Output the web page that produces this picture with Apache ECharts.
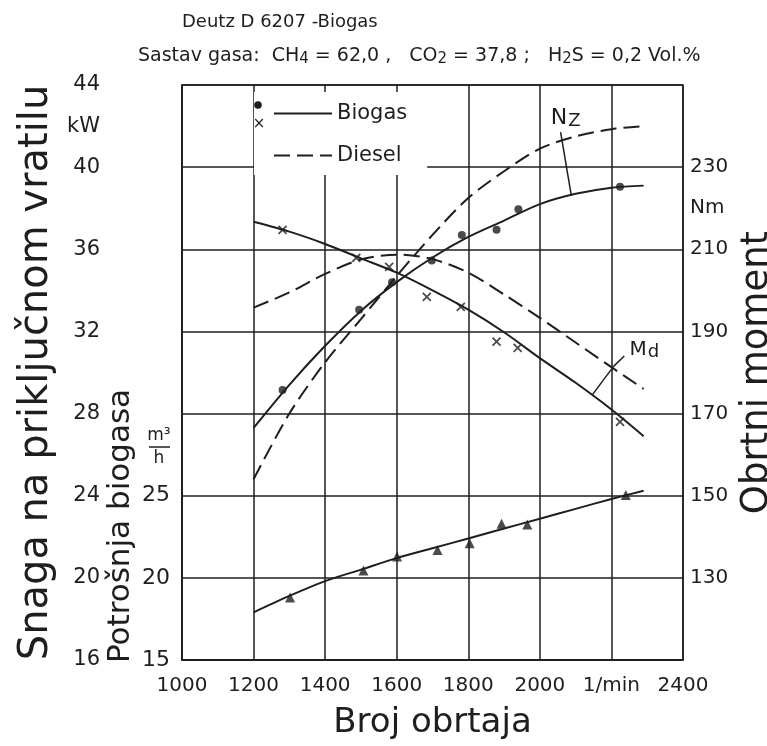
<!DOCTYPE html>
<html>
<head>
<meta charset="utf-8">
<script src="https://cdn.jsdelivr.net/npm/echarts@6/dist/echarts.min.js"></script>
<style>html,body{margin:0;padding:0;background:#fff;}#c{width:767px;height:746px;}</style>
</head>
<body>
<div id="c"></div>
<script>
// ---- data ----
const rpmCurve = [1200, 1300, 1400, 1500, 1600, 1700, 1800, 1900, 2000, 2100, 2200, 2290];
const powerBiogasCurve = [27.3, 29.4, 31.3, 33.0, 34.4, 35.6, 36.6, 37.4, 38.2, 38.7, 39.0, 39.1];
const powerDieselCurve = [24.8, 28.0, 30.5, 32.6, 34.7, 36.7, 38.5, 39.8, 40.9, 41.5, 41.85, 42.0];
const torqueBiogasCurve = [216.7, 214.3, 211.3, 207.8, 204.3, 200.0, 195.3, 189.8, 183.5, 177.5, 171.0, 164.5];
const torqueDieselCurve = [195.8, 199.5, 204.0, 207.5, 208.7, 207.6, 204.3, 199.0, 193.3, 187.3, 181.3, 176.0];
const consumptionCurve = [17.9, 18.9, 19.8, 20.5, 21.2, 21.8, 22.4, 23.0, 23.6, 24.2, 24.8, 25.3];

const powerPointsRpm = [1281, 1495, 1587, 1698, 1782, 1879, 1940, 2224];
const powerPointsKw = [29.15, 33.05, 34.4, 35.45, 36.7, 36.95, 37.95, 39.05];
const torquePointsRpm = [1281, 1487, 1579, 1684, 1779, 1879, 1938, 2224];
const torquePointsNm = [214.7, 207.9, 205.7, 198.4, 196.0, 187.5, 186.0, 168.0];
const consPointsRpm = [1302, 1507, 1601, 1714, 1804, 1893, 1965, 2240];
const consPointsVal = [18.8, 20.45, 21.3, 21.7, 22.1, 23.3, 23.25, 25.05];

const xTicks = [1000, 1200, 1400, 1600, 1800, 2000, 2200, 2400];
const powerTickLabels = [16, 20, 24, 28, 32, 36, 40, 44];
const torqueTickLabels = [130, 150, 170, 190, 210, 230];
const consTickLabels = [15, 20, 25];

// ---- chart ----
const ink = '#1e1e1e';
const FF = 'DejaVu Sans, Noto Sans, sans-serif';
const pair = (xs, ys) => xs.map((x, i) => [x, ys[i]]);

const chart = echarts.init(document.getElementById('c'), null, {renderer: 'canvas'});
chart.setOption({
  animation: false,
  backgroundColor: '#ffffff',
  title: [
    {text: 'Deutz D 6207 -Biogas', left: 177, top: 8,
     textStyle: {fontFamily: FF, fontSize: 18, fontWeight: 'normal', color: ink}},
    {text: '{a|Sastav gasa:  CH}{s|4}{a| = 62,0 ,   CO}{s|2}{a| = 37,8 ;   H}{s|2}{a|S = 0,2 Vol.%}',
     left: 133, top: 40,
     textStyle: {fontFamily: FF, fontSize: 19, fontWeight: 'normal', color: ink,
       rich: {
         a: {fontFamily: FF, fontSize: 19, lineHeight: 22, color: ink, verticalAlign: 'middle'},
         s: {fontFamily: FF, fontSize: 15, lineHeight: 15, color: ink, padding: [11, 0, 0, 0], verticalAlign: 'bottom'}
       }}}
  ],
  legend: {
    data: ['Biogas', 'Diesel'], orient: 'vertical', left: 254, top: 92,
    itemWidth: 58, itemHeight: 14, itemGap: 21, padding: [11, 20, 9, 19],
    backgroundColor: '#ffffff', selectedMode: false,
    itemStyle: {opacity: 0},
    textStyle: {fontFamily: FF, fontSize: 21, color: ink}
  },
  grid: {left: 182, right: 84, top: 85, bottom: 86, show: true, borderColor: ink, borderWidth: 1.5,
         outerBoundsMode: 'none'},
  xAxis: {
    type: 'value', min: 1000, max: 2400, interval: 200,
    name: 'Broj obrtaja', nameLocation: 'middle', nameGap: 46,
    nameTextStyle: {fontFamily: FF, fontSize: 34, color: ink},
    axisLine: {show: true, lineStyle: {color: ink, width: 1.5}},
    axisTick: {show: false},
    axisLabel: {margin: 16, fontFamily: FF, fontSize: 20, color: ink,
      formatter: v => (v === 2200 ? '1/min' : (xTicks.indexOf(v) >= 0 ? String(v) : ''))},
    splitLine: {show: true, lineStyle: {color: ink, width: 1.5}}
  },
  yAxis: [
    { // 0: power
      type: 'value', position: 'left', min: 16, max: 44, interval: 2,
      name: 'Snaga na priključnom vratilu', nameLocation: 'middle', nameRotate: 90, nameGap: 120,
      nameTextStyle: {fontFamily: FF, fontSize: 40, color: ink},
      axisLine: {show: false}, axisTick: {show: false}, splitLine: {show: false},
      axisLabel: {margin: 82, fontFamily: FF, fontSize: 21, color: ink,
        formatter: v => (v === 42 ? 'kW' : (powerTickLabels.indexOf(v) >= 0 ? String(v) : ''))}
    },
    { // 1: torque
      type: 'value', position: 'right', min: 110, max: 250, interval: 10,
      name: 'Obrtni moment', nameLocation: 'middle', nameRotate: 90, nameGap: 44,
      nameTextStyle: {fontFamily: FF, fontSize: 37, color: ink},
      axisLine: {show: false}, axisTick: {show: false}, splitLine: {show: false},
      axisLabel: {margin: 7, fontFamily: FF, fontSize: 20, color: ink,
        formatter: v => (v === 220 ? 'Nm' : (torqueTickLabels.indexOf(v) >= 0 ? String(v) : ''))}
    },
    { // 2: biogas consumption (gridlines)
      type: 'value', position: 'left', min: 15, max: 50, interval: 5,
      axisLine: {show: true, lineStyle: {color: ink, width: 1.5}}, axisTick: {show: false},
      splitLine: {show: true, lineStyle: {color: ink, width: 1.5}},
      axisLabel: {margin: 12, fontFamily: FF, fontSize: 22, color: ink,
        formatter: v => (consTickLabels.indexOf(v) >= 0 ? String(v) : '')}
    }
  ],
  graphic: [
    {type: 'text', z: 100, x: 121, y: 526, rotation: Math.PI / 2,
     style: {text: 'Potrošnja biogasa', fontFamily: FF, fontSize: 31, fill: ink, align: 'center', verticalAlign: 'middle'}},
    {type: 'text', z: 100, x: 159, y: 436,
     style: {text: 'm³', fontFamily: FF, fontSize: 17, fill: ink, align: 'center', verticalAlign: 'middle'}},
    {type: 'line', z: 100, shape: {x1: 149, y1: 447, x2: 170, y2: 447}, style: {stroke: ink, lineWidth: 1.5}},
    {type: 'text', z: 100, x: 159, y: 459,
     style: {text: 'h', fontFamily: FF, fontSize: 17, fill: ink, align: 'center', verticalAlign: 'middle'}},
    {type: 'circle', z: 100, shape: {cx: 258, cy: 105, r: 3.8}, style: {fill: ink}},
    {type: 'text', z: 100, x: 259, y: 124,
     style: {text: '×', fontFamily: FF, fontSize: 15, fill: ink, align: 'center', verticalAlign: 'middle'}}
  ],
  series: [
    {name: 'Biogas', type: 'line', yAxisIndex: 0, smooth: 0.3, symbol: 'none',
     data: pair(rpmCurve, powerBiogasCurve), lineStyle: {color: ink, width: 2, type: 'solid'}, itemStyle: {color: ink},
     markLine: {silent: true, symbol: ['none', 'none'], label: {show: false},
       lineStyle: {color: ink, width: 1.5, type: 'solid'},
       data: [[{coord: [2058, 41.7]}, {coord: [2088, 38.6]}]]}},
    {name: 'Diesel', type: 'line', yAxisIndex: 0, smooth: 0.3, symbol: 'none',
     data: pair(rpmCurve, powerDieselCurve), lineStyle: {color: ink, width: 2, type: [16, 7]}, itemStyle: {color: ink},
     markPoint: {silent: true, symbol: 'circle', symbolSize: 0,
       data: [{coord: [2072, 42.4], label: {show: true, position: 'inside', formatter: '{n|N}{z|Z}',
         rich: {n: {fontFamily: FF, fontSize: 22, lineHeight: 24, color: ink, verticalAlign: 'middle'},
                z: {fontFamily: FF, fontSize: 18, lineHeight: 18, color: ink, padding: [12, 0, 0, 1], verticalAlign: 'bottom'}}}}]}},
    {name: 'Biogas', type: 'line', yAxisIndex: 1, smooth: 0.3, symbol: 'none',
     data: pair(rpmCurve, torqueBiogasCurve), lineStyle: {color: ink, width: 2, type: 'solid'}, itemStyle: {color: ink},
     markLine: {silent: true, symbol: ['none', 'none'], label: {show: false},
       lineStyle: {color: ink, width: 1.5, type: 'solid'},
       data: [[{coord: [2236, 184]}, {coord: [2206, 181.5]}], [{coord: [2206, 181.5]}, {coord: [2146, 174.5]}]]}},
    {name: 'Diesel', type: 'line', yAxisIndex: 1, smooth: 0.3, symbol: 'none',
     data: pair(rpmCurve, torqueDieselCurve), lineStyle: {color: ink, width: 2, type: [16, 7]}, itemStyle: {color: ink},
     markPoint: {silent: true, symbol: 'circle', symbolSize: 0,
       data: [{coord: [2292, 185.5], label: {show: true, position: 'inside', formatter: '{n|M}{z|d}',
         rich: {n: {fontFamily: FF, fontSize: 20, lineHeight: 22, color: ink, verticalAlign: 'middle'},
                z: {fontFamily: FF, fontSize: 18, lineHeight: 18, color: ink, padding: [8, 0, 0, 1], verticalAlign: 'bottom'}}}}]}},
    {name: 'Potrošnja', type: 'line', yAxisIndex: 2, smooth: 0.3, symbol: 'none',
     data: pair(rpmCurve, consumptionCurve), lineStyle: {color: ink, width: 2}},
    {name: 'Biogas Nz', type: 'scatter', yAxisIndex: 0, symbol: 'circle', symbolSize: 8,
     data: pair(powerPointsRpm, powerPointsKw), itemStyle: {color: ink}},
    {name: 'Biogas Md', type: 'scatter', yAxisIndex: 1, symbol: 'path://M0,0L10,10M10,0L0,10', symbolSize: 8,
     data: pair(torquePointsRpm, torquePointsNm), itemStyle: {color: 'none', borderColor: ink, borderWidth: 1.8}},
    {name: 'Potrošnja mj.', type: 'scatter', yAxisIndex: 2, symbol: 'triangle', symbolSize: 10,
     data: pair(consPointsRpm, consPointsVal), itemStyle: {color: ink}}
  ]
});
</script>
</body>
</html>
